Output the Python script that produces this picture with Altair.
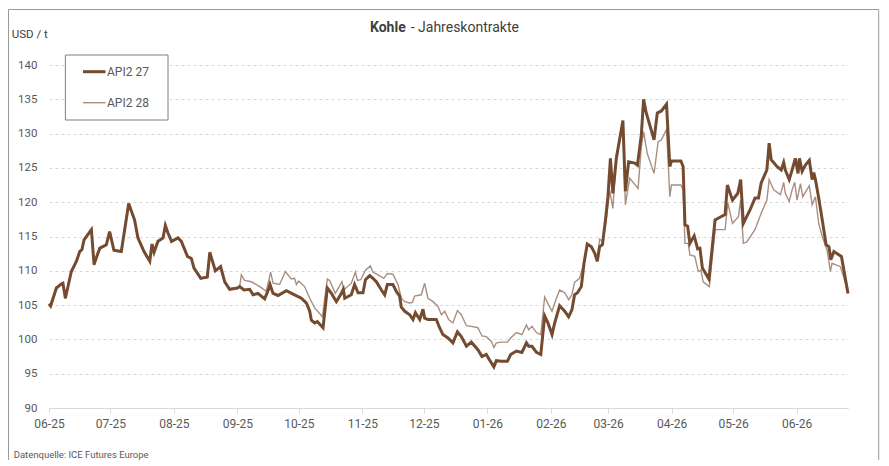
import altair as alt
import pandas as pd

# ---- data (day offset from 2025-06-01, USD/t) ----
api2_27 = [
    (0, 105.2), (0.8, 104.9), (3.6, 107.5), (6.1, 108.1), (6.8, 108.2), (8.0, 106.0), (10.9, 109.9),
    (13.4, 111.4), (15.0, 112.8), (16.1, 113.1), (17.1, 114.5), (20.7, 116.0), (22.0, 110.9),
    (23.1, 111.9), (24.8, 113.3), (28.0, 113.8), (29.6, 115.7), (31.7, 113.0), (35.3, 112.8),
    (38.9, 119.8), (41.8, 117.4), (43.4, 114.8), (46.4, 112.8), (49.2, 111.4), (50.3, 113.9),
    (51.3, 112.7), (53.2, 114.3), (55.7, 114.8), (56.8, 116.6), (58.1, 115.5), (59.8, 114.3),
    (63.0, 114.8), (64.6, 114.3), (67.6, 112.1), (69.5, 111.8), (70.8, 110.4), (74.1, 108.9),
    (77.3, 109.1), (78.5, 112.7), (81.2, 110.0), (83.8, 110.6), (85.8, 108.4), (88.2, 107.3),
    (92.0, 107.5), (93.1, 107.7), (95.2, 107.2), (98.0, 107.3), (99.6, 106.5), (102.0, 106.7),
    (105.3, 105.9), (107.2, 107.3), (107.9, 108.0), (109.4, 106.7), (111.8, 106.4), (115.9, 107.1),
    (119.9, 106.5), (123.2, 106.0), (125.7, 105.3), (127.3, 104.1), (128.1, 102.8), (129.7, 102.4),
    (131.0, 102.6), (133.8, 101.7), (135.9, 107.5), (137.9, 106.7), (140.3, 105.5), (142.7, 106.7),
    (143.7, 107.3), (144.4, 106.0), (147.6, 106.5), (149.2, 108.0), (150.9, 106.8), (153.3, 106.8),
    (154.5, 108.7), (156.6, 109.3), (158.2, 108.9), (159.8, 108.4), (162.3, 107.2), (163.9, 106.5),
    (165.2, 108.0), (167.9, 108.0), (169.6, 107.0), (171.2, 106.3), (172.0, 104.7), (173.7, 104.1),
    (176.1, 103.6), (177.7, 102.9), (178.9, 103.9), (181.0, 102.9), (182.6, 104.4), (183.4, 103.1),
    (185.0, 102.9), (189.1, 102.9), (190.7, 101.7), (192.3, 100.7), (194.8, 100.2), (197.2, 99.5),
    (199.4, 101.1), (201.3, 100.4), (203.8, 99.0), (206.2, 99.6), (209.4, 98.5), (211.4, 97.5),
    (213.5, 97.8), (215.1, 97.0), (217.2, 96.0), (218.4, 96.9), (220.9, 96.8), (223.8, 96.8),
    (225.4, 97.8), (228.2, 98.3), (230.9, 98.1), (233.1, 99.5), (234.2, 99.0), (235.8, 99.0),
    (238.0, 98.1), (240.1, 97.8), (242.0, 103.4), (243.6, 102.4), (245.6, 100.7), (246.9, 102.4),
    (249.3, 104.9), (251.8, 104.1), (253.7, 103.3), (255.3, 104.3), (256.6, 106.5), (258.0, 106.8),
    (259.9, 107.7), (261.2, 111.1), (262.8, 113.9), (264.8, 113.5), (266.4, 112.6), (267.7, 111.4),
    (268.8, 113.5), (270.2, 113.8), (271.6, 117.2), (272.9, 120.8), (274.1, 126.4), (275.3, 121.3),
    (277.0, 126.4), (280.2, 131.9), (281.4, 121.6), (283.0, 125.9), (286.0, 125.7), (287.3, 125.4),
    (289.2, 129.8), (290.3, 135.0), (291.6, 133.0), (295.4, 129.1), (297.0, 133.0), (299.0, 133.3),
    (301.5, 134.3), (303.1, 125.2), (303.9, 126.0), (308.5, 126.0), (309.6, 125.2), (310.5, 116.7),
    (311.8, 116.5), (312.9, 114.0), (315.0, 115.1), (316.7, 113.2), (317.8, 113.3), (319.0, 110.4),
    (322.2, 108.8), (325.2, 117.4), (327.6, 117.8), (330.1, 118.2), (331.2, 122.5), (333.7, 120.3),
    (336.3, 121.3), (337.7, 123.3), (339.0, 116.9), (342.3, 118.9), (344.7, 120.6), (346.4, 120.6),
    (347.7, 122.8), (350.5, 124.7), (351.6, 128.6), (352.6, 126.2), (355.4, 125.2), (357.5, 124.7),
    (358.7, 125.8), (359.5, 124.7), (361.4, 123.3), (362.8, 124.7), (364.4, 126.4), (365.7, 124.2),
    (366.4, 126.4), (367.7, 124.5), (369.3, 125.4), (371.2, 126.1), (372.6, 123.3), (373.4, 124.3),
    (374.2, 123.3), (375.8, 120.6), (377.8, 116.9), (379.4, 113.8), (380.8, 113.5), (381.7, 111.6),
    (383.2, 112.8), (386.9, 112.1), (390.1, 106.7),
]

api2_28 = [
    (0, 104.9), (0.8, 104.7), (3.6, 107.3), (6.1, 108.0), (6.8, 108.1), (8.0, 105.9), (10.9, 109.8),
    (13.4, 111.3), (15.0, 112.7), (16.1, 113.0), (17.1, 114.4), (20.7, 115.9), (22.0, 110.8),
    (23.1, 111.8), (24.8, 113.2), (28.0, 113.7), (29.6, 115.6), (31.7, 112.9), (35.3, 112.7),
    (38.9, 119.7), (41.8, 117.3), (43.4, 114.7), (46.4, 112.7), (49.2, 111.3), (50.3, 113.8),
    (51.3, 112.6), (53.2, 114.2), (55.7, 114.7), (56.8, 116.5), (58.1, 115.4), (59.8, 114.2),
    (63.0, 114.7), (64.6, 114.2), (67.6, 112.0), (69.5, 111.7), (70.8, 110.3), (74.1, 108.9),
    (77.3, 109.0), (78.5, 112.6), (81.2, 109.9), (83.8, 110.5), (85.8, 108.3), (88.2, 107.3),
    (92.0, 107.5), (93.1, 107.7), (93.9, 109.4), (95.5, 108.6), (98.8, 108.4), (102.9, 107.7),
    (106.1, 107.0), (108.2, 109.8), (109.4, 108.2), (112.6, 108.0), (115.4, 109.9), (118.3, 108.8),
    (119.9, 108.9), (120.8, 108.0), (121.9, 108.5), (124.8, 107.7), (127.3, 106.0), (129.7, 104.6),
    (133.5, 103.3), (135.9, 108.8), (137.0, 108.6), (139.8, 106.7), (143.0, 108.4), (143.9, 107.2),
    (147.6, 108.2), (149.6, 109.8), (150.6, 108.6), (152.2, 108.7), (154.5, 110.1), (156.1, 110.5),
    (156.9, 110.7), (158.2, 109.8), (160.6, 109.4), (163.5, 108.9), (165.2, 109.6), (167.9, 109.5),
    (170.4, 108.0), (172.0, 106.0), (173.7, 105.5), (176.1, 105.3), (177.4, 105.4), (178.5, 106.3),
    (181.8, 106.5), (183.4, 108.2), (185.0, 106.0), (187.5, 105.5), (189.9, 104.8), (191.6, 103.6),
    (193.2, 104.1), (195.1, 102.9), (197.2, 102.4), (199.4, 104.2), (201.3, 103.6), (203.8, 102.0),
    (206.2, 101.9), (209.4, 101.7), (211.4, 100.5), (213.5, 100.4), (216.0, 99.7), (217.2, 98.8),
    (218.4, 99.5), (220.9, 99.6), (223.8, 99.6), (225.4, 100.2), (228.2, 101.0), (230.9, 100.7),
    (233.1, 102.1), (234.2, 101.4), (235.8, 101.9), (238.0, 101.0), (240.1, 100.7), (242.0, 106.2),
    (244.0, 105.0), (245.6, 104.1), (246.9, 105.3), (249.3, 107.2), (251.8, 106.8), (253.7, 105.8),
    (255.3, 106.5), (256.6, 108.3), (259.0, 108.9), (261.2, 111.1), (262.8, 113.8), (264.8, 113.5),
    (266.4, 112.6), (267.7, 111.4), (268.8, 114.6), (270.5, 114.3), (272.1, 117.4), (273.7, 121.8),
    (275.3, 119.1), (277.0, 126.9), (280.2, 131.0), (281.4, 119.6), (283.5, 123.5), (286.8, 122.3),
    (287.6, 122.0), (289.2, 128.1), (290.3, 130.3), (292.1, 127.1), (295.4, 124.2), (297.4, 128.8),
    (299.0, 129.1), (301.5, 130.6), (303.1, 120.8), (303.9, 122.5), (308.5, 122.5), (309.6, 121.8),
    (310.5, 114.0), (312.1, 114.0), (312.9, 112.3), (315.3, 112.1), (317.0, 109.9), (318.3, 110.1),
    (319.4, 108.4), (322.4, 107.7), (325.2, 116.0), (330.1, 116.0), (331.4, 119.9), (333.7, 116.9),
    (336.6, 117.9), (337.7, 120.3), (339.0, 114.0), (340.7, 114.2), (344.7, 116.0), (347.7, 118.4),
    (350.5, 120.3), (351.6, 123.3), (353.8, 121.8), (357.1, 121.1), (358.7, 122.9), (359.5, 121.3),
    (361.4, 120.1), (362.8, 121.8), (364.1, 122.9), (365.2, 120.3), (366.9, 122.7), (368.0, 120.8),
    (371.2, 122.4), (372.6, 119.6), (374.2, 120.8), (375.8, 116.9), (377.5, 115.0), (379.9, 113.0),
    (381.5, 109.9), (382.3, 111.1), (386.4, 110.6), (390.1, 107.0),
]

series_names = ["API2 27", "API2 28"]
y_ticks = [90, 95, 100, 105, 110, 115, 120, 125, 130, 135, 140]
month_ticks = [(2025, m) for m in range(6, 13)] + [(2026, m) for m in range(1, 7)]
title_bold = "Kohle"
title_rest = "- Jahreskontrakte"
unit_label = "USD / t"
source_label = "Datenquelle: ICE Futures Europe"

BASE = pd.Timestamp("2025-06-01")


def to_df(pairs):
    return pd.DataFrame({
        "date": [BASE + pd.to_timedelta(d, unit="D") for d, _ in pairs],
        "value": [v for _, v in pairs],
    })


df27 = to_df(api2_27)
df28 = to_df(api2_28)

C27 = "#744b30"
C28 = "#a88f80"
TXT = "#595959"
FONT = "Roboto"

W, H = 799, 343

xscale = alt.Scale(domain=[alt.DateTime(year=2025, month=6, date=1),
                           alt.DateTime(year=2026, month=6, date=26, hours=2, minutes=24)])
yscale = alt.Scale(domain=[90, 140], nice=False, zero=False)

xaxis = alt.Axis(values=[alt.DateTime(year=y, month=m, date=1) for y, m in month_ticks],
                 format="%m-%y", title=None, grid=False, domainColor="#d9d9d9",
                 tickColor="#d9d9d9", tickSize=5, labelPadding=5, labelColor=TXT,
                 labelFontSize=12, labelFont=FONT, labelFlush=False)
yaxis = alt.Axis(values=y_ticks, title=None, grid=True, gridDash=[3, 3], gridColor="#d9d9d9",
                 domain=False, ticks=False, labelPadding=12, labelColor=TXT,
                 labelFontSize=11.5, labelFont=FONT)

line28 = alt.Chart(df28).mark_line(color=C28, strokeWidth=1.4).encode(
    x=alt.X("date:T", scale=xscale, axis=xaxis),
    y=alt.Y("value:Q", scale=yscale, axis=yaxis),
)
line27 = alt.Chart(df27).mark_line(color=C27, strokeWidth=3).encode(
    x=alt.X("date:T", scale=xscale, axis=xaxis),
    y=alt.Y("value:Q", scale=yscale, axis=yaxis),
)

one = pd.DataFrame({"a": [0]})
base = alt.Chart(one)

frame = base.mark_rect(fillOpacity=0, stroke="#9a9a9a", strokeWidth=1).encode(
    x=alt.value(-40.5), x2=alt.value(829.7), y=alt.value(-55.5), y2=alt.value(420))

legend_box = base.mark_rect(fill="white", stroke="#7f7f7f", strokeWidth=1).encode(
    x=alt.value(16.4), x2=alt.value(119), y=alt.value(-10), y2=alt.value(55))
leg_line27 = base.mark_rule(color=C27, strokeWidth=3).encode(
    x=alt.value(34), x2=alt.value(56.5), y=alt.value(6.7))
leg_line28 = base.mark_rule(color=C28, strokeWidth=1.4).encode(
    x=alt.value(34), x2=alt.value(56.5), y=alt.value(37.7))
leg_text27 = base.mark_text(align="left", baseline="middle", fontSize=12, font=FONT, color=TXT).encode(
    x=alt.value(58), y=alt.value(6.7), text=alt.value(series_names[0]))
leg_text28 = base.mark_text(align="left", baseline="middle", fontSize=12, font=FONT, color=TXT).encode(
    x=alt.value(58), y=alt.value(37.7), text=alt.value(series_names[1]))

t_bold = base.mark_text(align="right", baseline="middle", fontSize=14, font=FONT,
                        fontWeight="bold", color="#404040").encode(
    x=alt.value(356.7), y=alt.value(-37.5), text=alt.value(title_bold))
t_rest = base.mark_text(align="left", baseline="middle", fontSize=14, font=FONT,
                        color="#404040").encode(
    x=alt.value(361.7), y=alt.value(-37.5), text=alt.value(title_rest))
t_unit = base.mark_text(align="left", baseline="middle", fontSize=11.5, font=FONT,
                        color="#404040").encode(
    x=alt.value(-37.3), y=alt.value(-30), text=alt.value(unit_label))
t_src = base.mark_text(align="left", baseline="middle", fontSize=9.5, font=FONT,
                       color=TXT).encode(
    x=alt.value(-35.3), y=alt.value(390), text=alt.value(source_label))

chart = alt.layer(
    frame, line28, line27, legend_box, leg_line27, leg_line28, leg_text27, leg_text28,
    t_bold, t_rest, t_unit, t_src,
).properties(
    width=W, height=H,
    autosize=alt.AutoSizeParams(type="none"),
    padding={"left": 41, "top": 57, "right": 32, "bottom": 52},
).configure(font=FONT).configure_view(stroke=None)

chart.save("out.html", embed_options={"renderer": "svg", "actions": False})
